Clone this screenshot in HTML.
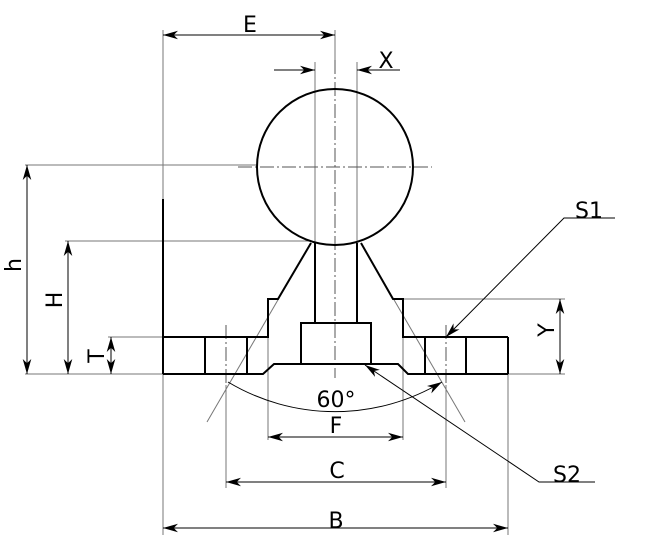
<!DOCTYPE html>
<html><head><style>html,body{margin:0;padding:0;background:#fff}svg{display:block}</style></head>
<body>
<svg width="645" height="555" viewBox="0 0 645 555" xmlns="http://www.w3.org/2000/svg" font-family="DejaVu Sans, Liberation Sans, sans-serif">
<defs>
<marker id="a" viewBox="0 0 14 8" refX="14" refY="4" markerWidth="15" markerHeight="9" markerUnits="userSpaceOnUse" orient="auto-start-reverse"><path d="M0,0 L14,4 L0,8 L4,4 Z" fill="#000"/></marker>
</defs>
<g stroke="#777" stroke-width="1" fill="none">
<line x1="163" y1="30" x2="163" y2="535"/>
<line x1="508" y1="374" x2="508" y2="535"/>
<line x1="335" y1="30" x2="335" y2="60"/>
<line x1="25" y1="165" x2="258" y2="165"/>
<line x1="65" y1="241" x2="311" y2="241"/>
<line x1="108" y1="337" x2="163" y2="337"/>
<line x1="25" y1="374" x2="163" y2="374"/>
<line x1="508" y1="374" x2="565" y2="374"/>
<line x1="403" y1="299" x2="565" y2="299"/>
<line x1="315" y1="62" x2="315" y2="243"/>
<line x1="357" y1="62" x2="357" y2="243"/>
<line x1="268" y1="337" x2="268" y2="440"/>
<line x1="403" y1="337" x2="403" y2="440"/>
<line x1="226" y1="385" x2="226" y2="488"/>
<line x1="446" y1="385" x2="446" y2="488"/>
<line x1="207" y1="422" x2="311" y2="243"/>
<line x1="465" y1="422" x2="361" y2="243"/>
</g>
<g stroke="#555" stroke-width="1" fill="none" stroke-dasharray="14,3,2,3">
<line x1="335" y1="60" x2="335" y2="378"/>
<line x1="238" y1="167" x2="432" y2="167"/>
<line x1="226" y1="325" x2="226" y2="385"/>
<line x1="446" y1="325" x2="446" y2="385"/>
</g>
<g stroke="#000" stroke-width="2" fill="none">
<circle cx="335" cy="167" r="78"/>
<line x1="163" y1="199" x2="163" y2="374"/>
<path d="M163,337 H268 V299 H278 L311,243"/>
<path d="M508,337 H403 V299 H393 L361,243"/>
<line x1="508" y1="337" x2="508" y2="374"/>
<path d="M163,374 H263 L274,364 H398 L408,374 H508"/>
<line x1="205" y1="337" x2="205" y2="374"/>
<line x1="247" y1="337" x2="247" y2="374"/>
<line x1="425" y1="337" x2="425" y2="374"/>
<line x1="466" y1="337" x2="466" y2="374"/>
<line x1="268" y1="299" x2="268" y2="337"/>
<line x1="403" y1="299" x2="403" y2="337"/>
<line x1="315" y1="243" x2="315" y2="323"/>
<line x1="357" y1="243" x2="357" y2="323"/>
<rect x="301" y="323" width="70" height="41"/>
</g>
<g stroke="#000" stroke-width="1" fill="none">
<line x1="163" y1="35" x2="335" y2="35" marker-start="url(#a)" marker-end="url(#a)"/>
<line x1="274" y1="70" x2="315" y2="70" marker-end="url(#a)"/>
<line x1="400" y1="70" x2="357" y2="70" marker-end="url(#a)"/>
<line x1="27" y1="165" x2="27" y2="374" marker-start="url(#a)" marker-end="url(#a)"/>
<line x1="68" y1="241" x2="68" y2="374" marker-start="url(#a)" marker-end="url(#a)"/>
<line x1="111" y1="337" x2="111" y2="374" marker-start="url(#a)" marker-end="url(#a)"/>
<line x1="560" y1="299" x2="560" y2="374" marker-start="url(#a)" marker-end="url(#a)"/>
<line x1="268" y1="437" x2="403" y2="437" marker-start="url(#a)" marker-end="url(#a)"/>
<line x1="226" y1="482" x2="446" y2="482" marker-start="url(#a)" marker-end="url(#a)"/>
<line x1="163" y1="528" x2="508" y2="528" marker-start="url(#a)" marker-end="url(#a)"/>
<path d="M228,382 A208,208 0 0 0 442,382" marker-end="url(#a)"/>
<path d="M615,218 H564 L446,337" marker-end="url(#a)"/>
<path d="M595,482 H539 L365,365" marker-end="url(#a)"/>
</g>
<g font-size="22" fill="#000" text-anchor="middle">
<text x="250" y="32">E</text>
<text x="386" y="68">X</text>
<text x="589" y="218">S1</text>
<text x="567" y="482">S2</text>
<text x="336" y="407">60°</text>
<text x="336" y="433">F</text>
<text x="337" y="478">C</text>
<text x="336" y="528">B</text>
<text transform="translate(21,265) rotate(-90)">h</text>
<text transform="translate(62,300) rotate(-90)">H</text>
<text transform="translate(104,356) rotate(-90)">T</text>
<text transform="translate(554,330) rotate(-90)">Y</text>
</g>
</svg>
</body></html>
